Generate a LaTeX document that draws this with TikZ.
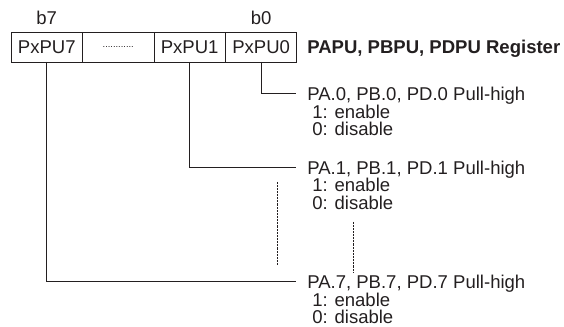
\documentclass[tikz,border=0pt]{standalone}
\usepackage{fontspec}
\setmainfont{Liberation Sans}
\usetikzlibrary{positioning}

\definecolor{ink}{RGB}{35,31,32}

\tikzset{
  bitbox/.style={draw=ink, line width=0.6pt, minimum width=53.6pt, minimum height=22.5pt,
    inner sep=0pt, outer sep=0pt, text=ink},
  wire/.style={draw=ink, line width=0.6pt},
  gapline/.style={draw=ink, line width=0.5pt, dash pattern=on 0.5pt off 0.6pt},
  desc/.style={anchor=base west, inner sep=0pt, text=ink},
}

\begin{document}
\fontsize{13.9}{16}\selectfont
\begin{tikzpicture}[x=0.75pt, y=-0.75pt, line cap=butt, line join=miter]
            \useasboundingbox (0,0) rectangle (564,327);

            % register bits
            \node[bitbox] (pu7) at (46.75,47) {PxPU7};
            \node[bitbox, right=0pt of pu7] (mid) {\fontsize{7}{8}\selectfont............};
            \node[bitbox, right=0pt of mid] (pu1) {PxPU1};
            \node[bitbox, right=0pt of pu1] (pu0) {PxPU0};

            \node[desc, anchor=base] (b7) at (46.75,25) {b7};
            \node[desc, anchor=base] (b0) at (261.25,25) {b0};

            \node[desc] (title) at (307,54) {\bfseries PAPU, PBPU, PDPU Register};

            % bit 0
            \node[desc] (pa0) at (307,101) {PA.0, PB.0, PD.0 Pull-high};
            \node[desc] (on0) at (312,118.5) {1: enable};
            \node[desc] (off0) at (312,136) {0: disable};

            % bit 1
            \node[desc] (pa1) at (307,174.5) {PA.1, PB.1, PD.1 Pull-high};
            \node[desc] (on1) at (312,192) {1: enable};
            \node[desc] (off1) at (312,209.5) {0: disable};

            % bit 7
            \node[desc] (pa7) at (307,289) {PA.7, PB.7, PD.7 Pull-high};
            \node[desc] (on7) at (312,306.5) {1: enable};
            \node[desc] (off7) at (312,324) {0: disable};

            \coordinate (e0) at (296,93.5);
            \coordinate (e1) at (296,167);
            \coordinate (e7) at (296,281.5);

            \draw[wire] (pu0.south) |- (e0);
            \draw[wire] (pu1.south) |- (e1);
            \draw[wire] (pu7.south) |- (e7);

            % bits left out
            \draw[gapline] (277,182) -- (277,265);
            \draw[gapline] (353,222) -- (353,272);

\end{tikzpicture}
\end{document}
